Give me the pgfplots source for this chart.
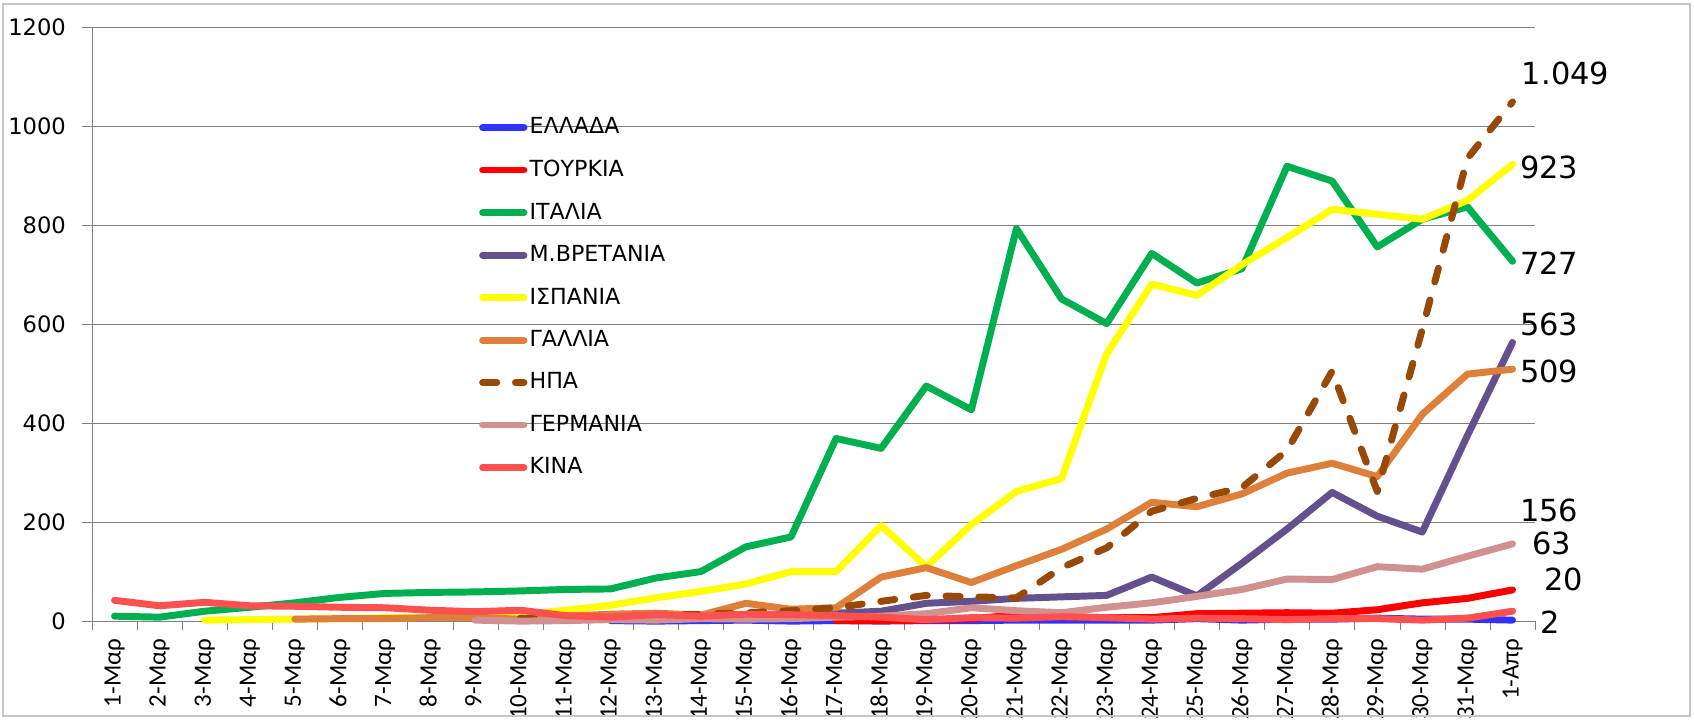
\documentclass[border=0pt]{standalone}
\usepackage{pgfplots}
\pgfplotsset{compat=1.18}
\usepackage{fontspec}
\setmainfont{DejaVu Sans}
\newfontfamily\carlito{Carlito}

\definecolor{cGR}{RGB}{50,50,255}
\definecolor{cTR}{RGB}{255,0,0}
\definecolor{cIT}{RGB}{0,176,80}
\definecolor{cUK}{RGB}{100,80,140}
\definecolor{cES}{RGB}{255,255,0}
\definecolor{cFR}{RGB}{222,128,58}
\definecolor{cUS}{RGB}{152,72,7}
\definecolor{cDE}{RGB}{210,145,145}
\definecolor{cCN}{RGB}{255,80,80}

\begin{document}
\begin{tikzpicture}
\begin{axis}[
    at={(0,0)}, anchor=south west,
    width=663.8pt, height=273.2pt, scale only axis,
    xmin=-0.5, xmax=31.5, ymin=0, ymax=1200,
    ytick={0,200,...,1200},
    xtick={0,...,31},
    xticklabels={1-Μαρ,2-Μαρ,3-Μαρ,4-Μαρ,5-Μαρ,6-Μαρ,7-Μαρ,8-Μαρ,9-Μαρ,10-Μαρ,
      11-Μαρ,12-Μαρ,13-Μαρ,14-Μαρ,15-Μαρ,16-Μαρ,17-Μαρ,18-Μαρ,19-Μαρ,20-Μαρ,
      21-Μαρ,22-Μαρ,23-Μαρ,24-Μαρ,25-Μαρ,26-Μαρ,27-Μαρ,28-Μαρ,29-Μαρ,30-Μαρ,
      31-Μαρ,1-Απρ},
    minor xtick={-0.5,0.5,...,31.5},
    major x tick style={draw=none},
    tick align=outside,
    major tick length=4.5pt, minor tick length=4.2pt,
    tick style={gray},
    axis x line*=bottom, axis y line*=left,
    axis line style={gray, -},
    ymajorgrids, grid style={gray, line width=0.5pt},
    xticklabel style={rotate=90, anchor=east, font=\carlito\fontsize{11.5}{12}\selectfont},
    yticklabel style={font=\fontsize{10.4}{12}\selectfont, xshift=-4pt},
    /pgf/number format/1000 sep={},
    /pgf/number format/assume math mode=true,
    clip=false,
    every axis plot/.append style={line width=3.2pt, line cap=round, line join=round, mark=none},
    legend image code/.code={\draw[#1] (0pt,0pt) -- (19pt,0pt);},
    legend cell align=left,
    legend style={at={(0.268,0.852)}, anchor=north west, draw=none, fill=none,
      inner sep=0pt, row sep=8.6pt, font=\fontsize{10.2}{12}\selectfont,
      nodes={inner sep=1pt}},
]
% ΕΛΛΑΔΑ
\addplot[cGR] coordinates {(11,1)(12,0)(13,1)(14,2)(15,0)(16,1)(17,0)(18,1)(19,1)(20,2)
  (21,2)(22,2)(23,2)(24,5)(25,2)(26,4)(27,4)(28,6)(29,4)(30,4)(31,2)};
% ΤΟΥΡΚΙΑ
\addplot[cTR] coordinates {(16,1)(17,1)(18,2)(19,5)(20,12)(21,9)(22,7)(23,7)(24,15)(25,16)
  (26,17)(27,16)(28,23)(29,37)(30,46)(31,63)};
% ΙΤΑΛΙΑ
\addplot[cIT] coordinates {(0,10)(1,8)(2,20)(3,28)(4,37)(5,48)(6,56)(7,58)(8,59)(9,61)
  (10,64)(11,65)(12,87)(13,100)(14,150)(15,170)(16,369)(17,349)(18,475)(19,427)
  (20,793)(21,651)(22,601)(23,743)(24,683)(25,712)(26,919)(27,889)(28,756)(29,812)
  (30,837)(31,727)};
% Μ.ΒΡΕΤΑΝΙΑ
\addplot[cUK] coordinates {(13,8)(14,12)(15,14)(16,16)(17,20)(18,36)(19,40)(20,46)(21,49)
  (22,52)(23,89)(24,51)(25,117)(26,186)(27,260)(28,212)(29,180)(30,375)(31,563)};
% ΙΣΠΑΝΙΑ
\addplot[cES] coordinates {(2,2)(3,3)(4,4)(5,5)(6,7)(7,8)(8,10)(9,13)(10,22)(11,32)
  (12,47)(13,60)(14,75)(15,100)(16,100)(17,193)(18,110)(19,195)(20,262)(21,288)
  (22,540)(23,681)(24,658)(25,720)(26,775)(27,832)(28,822)(29,812)(30,850)(31,923)};
% ΓΑΛΛΙΑ
\addplot[cFR] coordinates {(4,4)(5,5)(6,5)(7,7)(8,7)(9,4)(10,10)(11,14)(12,16)(13,12)
  (14,36)(15,24)(16,27)(17,89)(18,108)(19,78)(20,112)(21,145)(22,186)(23,240)
  (24,231)(25,257)(26,299)(27,319)(28,292)(29,418)(30,499)(31,509)};
% ΗΠΑ
\addplot[cUS, dash pattern=on 6.5pt off 8.6pt] coordinates {(9,6)(10,3)(11,7)(12,12)(13,14)
  (14,17)(15,21)(16,27)(17,40)(18,52)(19,49)(20,47)(21,108)(22,148)(23,222)(24,248)
  (25,270)(26,345)(27,505)(28,262)(29,590)(30,935)(31,1049)};
% ΓΕΡΜΑΝΙΑ
\addplot[cDE] coordinates {(8,2)(9,0)(10,1)(11,3)(12,2)(13,5)(14,4)(15,5)(16,8)(17,10)
  (18,15)(19,27)(20,21)(21,17)(22,28)(23,37)(24,50)(25,64)(26,85)(27,84)(28,110)
  (29,105)(30,131)(31,156)};
% ΚΙΝΑ
\addplot[cCN] coordinates {(0,42)(1,31)(2,38)(3,31)(4,30)(5,28)(6,27)(7,22)(8,19)(9,22)
  (10,11)(11,8)(12,13)(13,10)(14,14)(15,13)(16,11)(17,8)(18,3)(19,7)(20,6)(21,9)
  (22,7)(23,4)(24,6)(25,5)(26,3)(27,5)(28,5)(29,2)(30,6)(31,20)};
\legend{ΕΛΛΑΔΑ,ΤΟΥΡΚΙΑ,ΙΤΑΛΙΑ,Μ.ΒΡΕΤΑΝΙΑ,ΙΣΠΑΝΙΑ,ΓΑΛΛΙΑ,ΗΠΑ,ΓΕΡΜΑΝΙΑ,ΚΙΝΑ}

\begin{scope}[every node/.style={anchor=west, inner sep=0pt, font=\fontsize{14}{16}\selectfont}]
\node at (axis cs:31.2,1107) {1.049};
\node at (axis cs:31.16,917) {923};
\node at (axis cs:31.16,723) {727};
\node at (axis cs:31.16,600) {563};
\node at (axis cs:31.16,505) {509};
\node at (axis cs:31.16,224) {156};
\node at (axis cs:31.43,156) {63};
\node at (axis cs:31.69,85) {20};
\node at (axis cs:31.6,-2) {2};
\end{scope}
\end{axis}
\draw[gray!45, line width=0.8pt] (-40.9pt,-43.7pt) rectangle (735.1pt,283.8pt);
\path[use as bounding box] (-42.3pt,-48.8pt) rectangle (736.9pt,285.7pt);
\end{tikzpicture}
\end{document}
